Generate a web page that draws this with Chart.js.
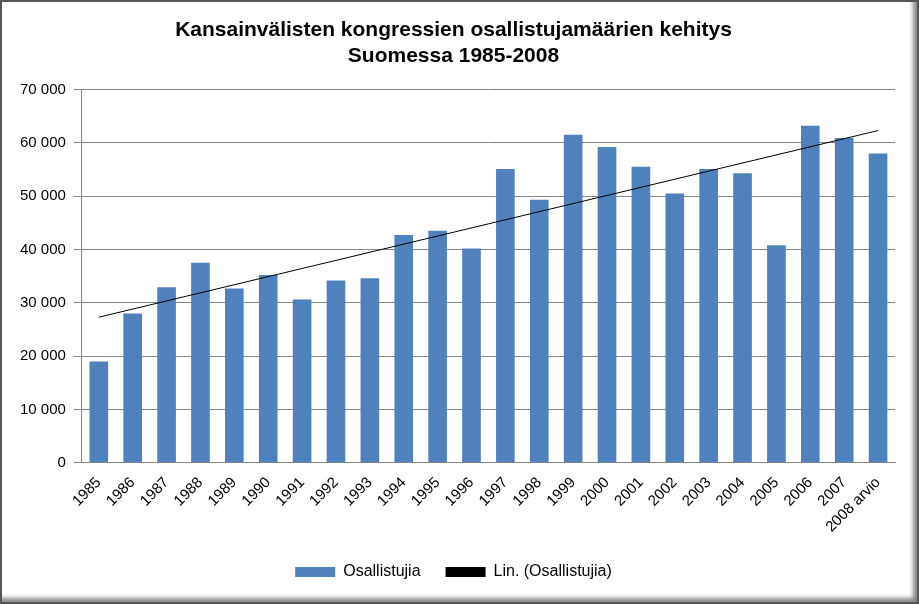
<!DOCTYPE html>
<html><head><meta charset="utf-8">
<script src="https://cdn.jsdelivr.net/npm/chart.js@4"></script>
<style>html,body{margin:0;padding:0;background:#fff}#w{width:919px;height:604px;box-sizing:border-box;border:2px solid #555;box-shadow:inset -4px -4px 4px #888}canvas{display:block}</style>
</head><body><div id="w"><canvas id="c" width="911" height="598"></canvas></div>
<script>
const categories=["1985","1986","1987","1988","1989","1990","1991","1992","1993","1994","1995","1996","1997","1998","1999","2000","2001","2002","2003","2004","2005","2006","2007","2008 arvio"];
const participants=[19000,28000,32900,37500,32700,35200,30600,34200,34600,42700,43500,40200,55100,49300,61500,59200,55500,50500,55100,54300,40800,63200,60900,58000];
const trendStart=27300, trendEnd=62300;
const trend=categories.map((c,i)=>i===0?trendStart:(i===categories.length-1?trendEnd:null));
const yTicks=[0,10000,20000,30000,40000,50000,60000,70000];
const fmt=v=>v===0?"0":String(v).replace(/\B(?=(\d{3})+(?!\d))/g,"\u00a0");
new Chart(document.getElementById('c'),{
 data:{labels:categories,datasets:[
  {type:'bar',label:'Osallistujia',data:participants,backgroundColor:'#4f81bd',barPercentage:0.55,categoryPercentage:1,order:2},
  {type:'line',label:'Lin. (Osallistujia)',data:trend,spanGaps:true,borderColor:'#000',borderWidth:1,pointRadius:0,backgroundColor:'#000',order:1}
 ]},
 options:{responsive:false,animation:false,maintainAspectRatio:false,
  layout:{padding:{left:10,right:18,top:5,bottom:10}},
  plugins:{title:{display:true,text:['Kansainvälisten kongressien osallistujamäärien kehitys','Suomessa 1985-2008'],font:{family:'Liberation Sans',size:21,weight:'bold',lineHeight:1.25},color:'#000',padding:{top:10,bottom:20}},
   legend:{position:'bottom',labels:{font:{family:'Liberation Sans',size:16},color:'#000',boxWidth:40,boxHeight:10,padding:25,
    generateLabels:ch=>[{text:'Osallistujia',fillStyle:'#4f81bd',strokeStyle:'#4f81bd',lineWidth:0,datasetIndex:0},{text:'Lin. (Osallistujia)',fillStyle:'#000',strokeStyle:'#000',lineWidth:0,datasetIndex:1}]}},
   tooltip:{enabled:false}},
  scales:{x:{grid:{display:false},border:{color:'#868686'},ticks:{maxRotation:45,minRotation:45,autoSkip:false,font:{family:'Liberation Sans',size:15},color:'#000'}},
   y:{min:0,max:70000,afterBuildTicks:a=>{a.ticks=yTicks.map(v=>({value:v}))},grid:{color:'#868686'},border:{color:'#868686'},ticks:{callback:fmt,font:{family:'Liberation Sans',size:15},color:'#000',padding:8}}}
 }});
</script></body></html>
